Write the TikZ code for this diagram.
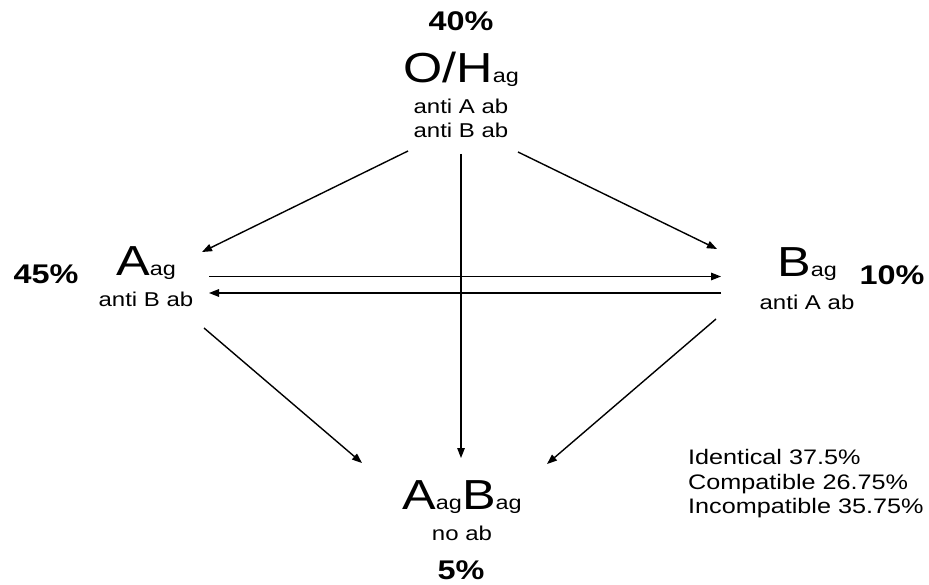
\documentclass[tikz,border=0pt]{standalone}
\usepackage{fontspec}
\setmainfont{Liberation Sans}[FakeStretch=1.2]
\usetikzlibrary{arrows.meta}
\newcommand{\bigt}[1]{{\fontsize{42}{50}\selectfont #1}}
\newcommand{\subt}[1]{{\fontsize{19.5}{23}\selectfont #1}}
\tikzset{
  pct/.style={font=\fontsize{27}{32}\selectfont\bfseries, anchor=base, inner sep=0pt},
  bigl/.style={anchor=base, inner sep=0pt},
  smalltxt/.style={font=\fontsize{20}{24}\selectfont, anchor=base, inner sep=0pt},
  leg/.style={font=\fontsize{21}{25}\selectfont, anchor=base west, inner sep=0pt},
  arr/.style={line width=1.4pt, -{Triangle[length=10pt,width=7.5pt]}}
}
\begin{document}
\begin{tikzpicture}[x=1pt,y=-1pt]
\fill[white] (0,0) rectangle (929,585);
\useasboundingbox (0,0) rectangle (929,585);
% top
\node[pct] (p40) at (461,31) {40\%};
\node[bigl] (O) at (461,83) {\bigt{O/H}\subt{ag}};
\node[smalltxt] (O1) at (461,114) {anti A ab};
\node[smalltxt] (O2) at (461,138) {anti B ab};
% left
\node[pct] (p45) at (46,284) {45\%};
\node[bigl] (A) at (146,276) {\bigt{A}\subt{ag}};
\node[smalltxt] (A1) at (146,307) {anti B ab};
% right
\node[bigl] (B) at (807,277) {\bigt{B}\subt{ag}};
\node[smalltxt] (B1) at (807,309) {anti A ab};
\node[pct] (p10) at (892,285) {10\%};
% bottom
\node[bigl] (AB) at (462,509) {\bigt{A}\subt{ag}\bigt{B}\subt{ag}};
\node[smalltxt] (AB1) at (462,540) {no ab};
\node[pct] (p5) at (461,579) {5\%};
% legend
\node[leg] (L1) at (688,464) {Identical 37.5\%};
\node[leg] (L2) at (688,489) {Compatible 26.75\%};
\node[leg] (L3) at (688,513) {Incompatible 35.75\%};
% connector end points
\coordinate (oA) at (408,151);
\coordinate (aO) at (202,252);
\coordinate (oB) at (518,152);
\coordinate (bO) at (717,249);
\coordinate (oV) at (461,154);
\coordinate (vAB) at (461,458);
\coordinate (aB) at (209,276.5);
\coordinate (bA) at (721,276.5);
\coordinate (bA2) at (721,293);
\coordinate (aB2) at (209,293);
\coordinate (aAB) at (204,328);
\coordinate (abA) at (362,463);
\coordinate (bAB) at (716,319);
\coordinate (abB) at (547,464);
\draw[arr] (oA) -- (aO);
\draw[arr] (oB) -- (bO);
\draw[arr] (oV) -- (vAB);
\draw[arr] (aB) -- (bA);
\draw[arr] (bA2) -- (aB2);
\draw[arr] (aAB) -- (abA);
\draw[arr] (bAB) -- (abB);
\end{tikzpicture}
\end{document}
